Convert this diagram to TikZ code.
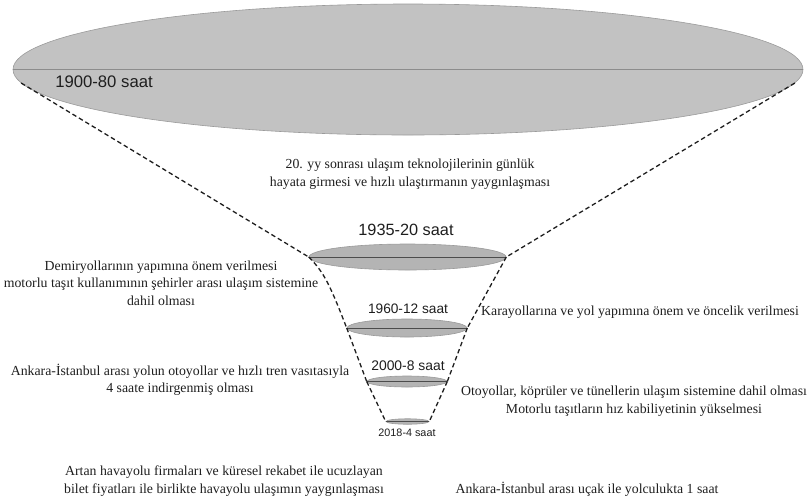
\documentclass[tikz,border=0pt]{standalone}
\usepackage{fontspec}
\setmainfont{Liberation Serif}
\newfontfamily\lsans{Liberation Sans}
\usetikzlibrary{shapes.geometric}
\definecolor{bigfill}{HTML}{C2C2C2}
\definecolor{smallfill}{HTML}{B4B4B4}
\definecolor{rimgray}{HTML}{9A9A9A}
\definecolor{inkdark}{HTML}{1E1E1E}
\tikzset{
  ell/.style={ellipse, draw=rimgray, line width=0.6pt, inner sep=0pt},
  bigell/.style={ell, fill=bigfill},
  smallell/.style={ell, fill=smallfill},
  midline/.style={draw=black!70, line width=0.7pt},
  bigmid/.style={draw=black!45, line width=0.6pt},
  funnel/.style={draw=inkdark, line width=1.3pt, dash pattern=on 4.5pt off 3pt},
  yearlbl/.style={font=\lsans, text=inkdark, inner sep=0pt},
  desc/.style={font=\rmfamily\fontsize{13.8}{17.5}\selectfont, text=inkdark, align=center, inner sep=0pt}
}
\begin{document}
\begin{tikzpicture}[x=1pt, y=-1pt]
\useasboundingbox (0,0) rectangle (810,499);
% ellipses
\node[bigell, minimum width=790pt, minimum height=131pt] (e1900) at (408,69.5) {};
\node[smallell, minimum width=197pt, minimum height=26pt] (e1935) at (407.5,257) {};
\node[smallell, minimum width=120pt, minimum height=18pt] (e1960) at (407,328) {};
\node[smallell, minimum width=80pt, minimum height=11pt] (e2000) at (407,381.5) {};
\node[smallell, minimum width=43pt, minimum height=5.5pt] (e2018) at (407.5,421.5) {};
% centre lines
\draw[bigmid] (e1900.west) -- (e1900.east);
\draw[midline] (e1935.west) -- (e1935.east);
\draw[midline] (e1960.west) -- (e1960.east);
\draw[midline] (e2000.west) -- (e2000.east);
\draw[midline] (e2018.west) -- (e2018.east);
% funnel
\draw[funnel] (e1900.182) -- (e1935.west);
\draw[funnel] (e1900.-2) -- (e1935.east);
\draw[funnel] (e1935.west) .. controls (324,272) and (330,285) .. (e1960.west);
\draw[funnel] (e1935.east) -- (e1960.east);
\draw[funnel] (e1960.west) -- (e2000.west);
\draw[funnel] (e1960.east) -- (e2000.east);
\draw[funnel] (e2000.west) -- (e2018.west);
\draw[funnel] (e2000.east) -- (e2018.east);
% year labels
\node[yearlbl, font=\lsans\fontsize{16.7}{18}\selectfont] (l1900) at (104,82) {1900-80 saat};
\node[yearlbl, font=\lsans\fontsize{16.3}{18}\selectfont] (l1935) at (406,230) {1935-20 saat};
\node[yearlbl, font=\lsans\fontsize{13.7}{15}\selectfont] (l1960) at (408,309) {1960-12 saat};
\node[yearlbl, font=\lsans\fontsize{13.9}{15}\selectfont] (l2000) at (408,366) {2000-8 saat};
\node[yearlbl, font=\lsans\fontsize{10.8}{12}\selectfont] (l2018) at (407,433) {2018-4 saat};
% descriptions
\node[desc] (d1) at (410,174) {20. yy sonrası ulaşım teknolojilerinin günlük\\hayata girmesi ve hızlı ulaştırmanın yaygınlaşması};
\node[desc] (d2) at (161,283) {Demiryollarının yapımına önem verilmesi\\motorlu taşıt kullanımının şehirler arası ulaşım sistemine\\dahil olması};
\node[desc] (d3) at (640,312) {Karayollarına ve yol yapımına önem ve öncelik verilmesi};
\node[desc] (d4) at (180,380) {Ankara-İstanbul arası yolun otoyollar ve hızlı tren vasıtasıyla\\4 saate indirgenmiş olması};
\node[desc] (d5) at (634,401) {Otoyollar, köprüler ve tünellerin ulaşım sistemine dahil olması\\Motorlu taşıtların hız kabiliyetinin yükselmesi};
\node[desc] (d6) at (224,481) {Artan havayolu firmaları ve küresel rekabet ile ucuzlayan\\bilet fiyatları ile birlikte havayolu ulaşımın yaygınlaşması};
\node[desc] (d7) at (587,489) {Ankara-İstanbul arası uçak ile yolculukta 1 saat};
\end{tikzpicture}
\end{document}
